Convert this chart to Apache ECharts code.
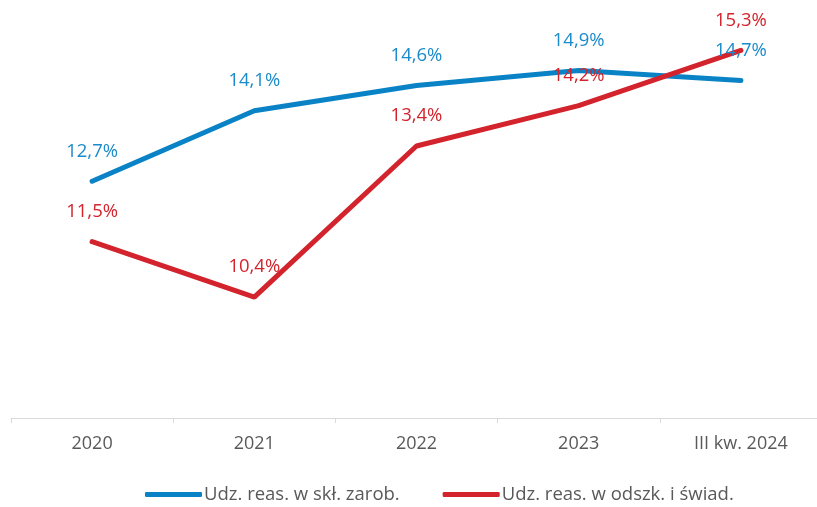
<!DOCTYPE html>
<html><head><meta charset="utf-8">
<script src="https://cdn.jsdelivr.net/npm/echarts@6/dist/echarts.min.js"></script>
<style>html,body{margin:0;padding:0;background:#fff}#c{width:817px;height:507px}</style>
</head><body><div id="c"></div>
<script>
var categories = ['2020', '2021', '2022', '2023', 'III kw. 2024'];
var seriesNames = ['Udz. reas. w skł. zarob.', 'Udz. reas. w odszk. i świad.'];
var blueValues = [12.7, 14.1, 14.6, 14.9, 14.7];
var redValues = [11.5, 10.4, 13.4, 14.2, 15.3];
var FONT = '"Open Sans", "Noto Sans", sans-serif';
var chart = echarts.init(document.getElementById('c'));
function fmt(p){ return p.value.toFixed(1).replace('.', ',') + '%'; }
chart.setOption({
  animation: false,
  grid: {left: 11, right: -5, top: 15, bottom: 89, outerBoundsMode: 'none', containLabel: false},
  xAxis: {
    type: 'category', data: categories, boundaryGap: true,
    axisLine: {lineStyle: {color: '#d9d9d9', width: 1}},
    axisTick: {show: true, length: 5, lineStyle: {color: '#d9d9d9'}},
    axisLabel: {color: '#595959', fontSize: 18, fontFamily: FONT, margin: 17}
  },
  yAxis: {type: 'value', min: 8, max: 16, show: false, splitLine: {show: false}},
  legend: {
    top: 480, left: 140, itemGap: 43, itemWidth: 57, itemHeight: 5,
    textStyle: {color: '#595959', fontSize: 18.5, fontFamily: FONT, padding: [0,0,0,-3]},
    data: [
      {name: seriesNames[0], icon: 'roundRect'},
      {name: seriesNames[1], icon: 'roundRect'}
    ]
  },
  series: [
    {name: seriesNames[0], type: 'line', data: blueValues, symbol: 'circle', symbolSize: 1, showSymbol: true,
     lineStyle: {color: '#0a83c6', width: 5, cap: 'round'}, itemStyle: {color: '#0a83c6'},
     label: {show: true, position: 'top', distance: 20, formatter: fmt, color: '#1a8bcb', fontSize: 18.5, fontFamily: FONT}},
    {name: seriesNames[1], type: 'line', data: redValues, symbol: 'circle', symbolSize: 1, showSymbol: true,
     lineStyle: {color: '#d3232c', width: 5, cap: 'round'}, itemStyle: {color: '#d3232c'},
     label: {show: true, position: 'top', distance: 20, formatter: fmt, color: '#d3232c', fontSize: 18.5, fontFamily: FONT}}
  ]
});
</script></body></html>
